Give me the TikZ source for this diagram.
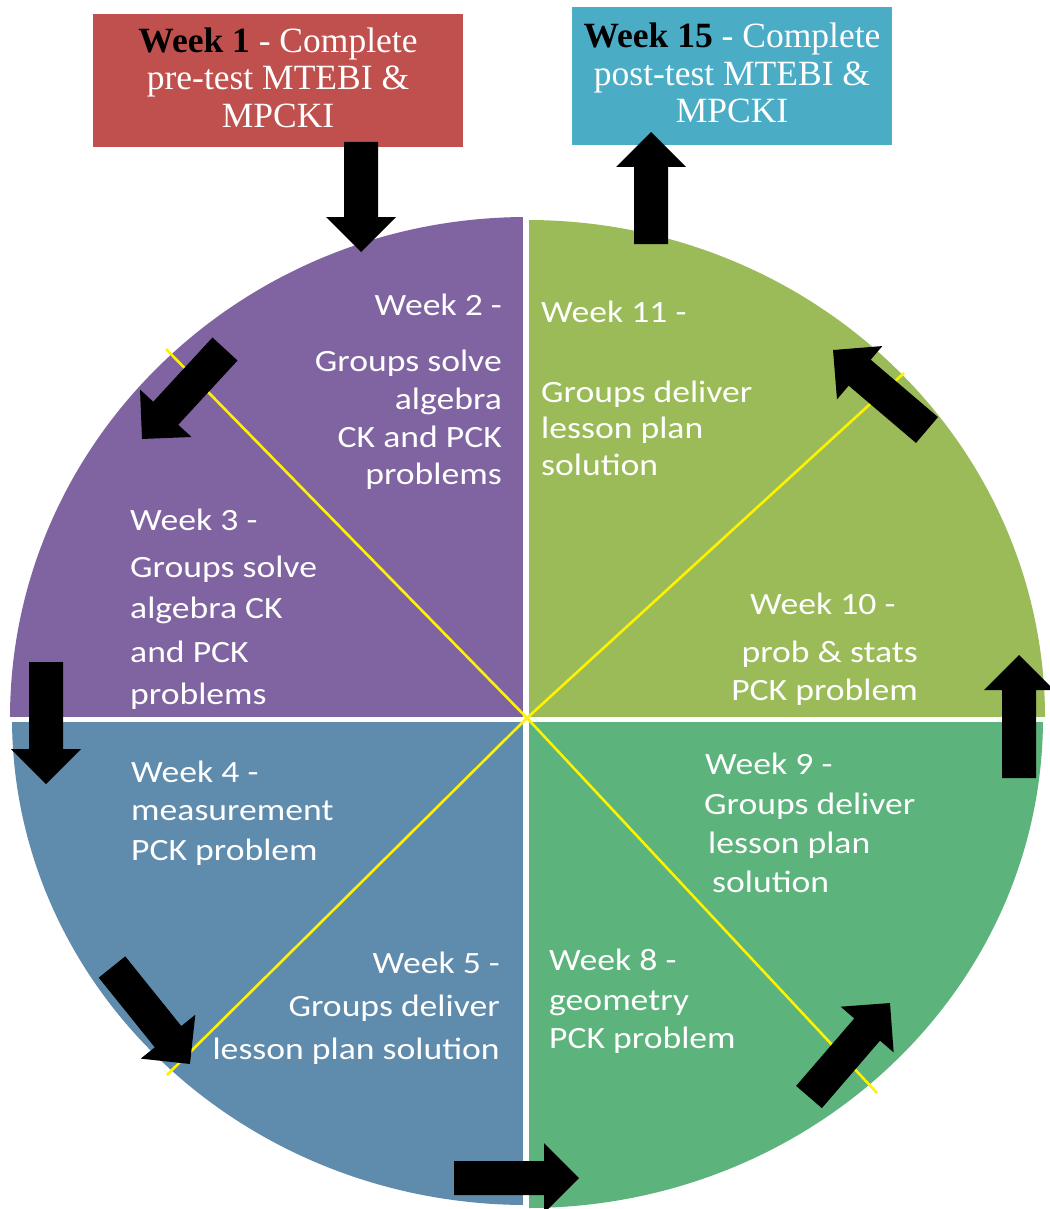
\documentclass[tikz,border=0pt]{standalone}
\usepackage{fontspec}
\setmainfont{Liberation Serif}
\newfontfamily\qfont[FakeStretch=1.15]{Carlito}
\usetikzlibrary{calc}
\definecolor{qpurple}{HTML}{8064A2}
\definecolor{qolive}{HTML}{9BBB59}
\definecolor{qblue}{HTML}{5F8BAD}
\definecolor{qgreen}{HTML}{5CB37B}
\definecolor{boxred}{HTML}{C0504D}
\definecolor{boxcyan}{HTML}{4BACC6}
\tikzset{
  qt/.style={text=white, font=\qfont\fontsize{31}{31}\selectfont, inner sep=0pt, text height=26pt, text depth=6pt},
  qw/.style={qt, anchor=west},
  qe/.style={qt, anchor=east},
  boxbase/.style={minimum width=#1, inner sep=0pt},
  boxtext/.style={text=white, align=center, font=\fontsize{35.5}{37.5}\selectfont, inner sep=0pt},
  blockarrowstyle/.style={fill=black},
  sep/.style={draw=white, line width=6pt},
  yel/.style={draw=yellow, line width=2.6pt},
}
\newcommand\blockarrow[2]{%
  \path let \p1=($(#2)-(#1)$) in \pgfextra{%
    \pgfmathsetmacro\tmpang{atan2(\y1,\x1)}%
    \pgfmathsetmacro\tmplen{veclen(\x1,\y1)}%
    \global\let\barang\tmpang\global\let\barlen\tmplen};
  \fill[blockarrowstyle, shift={(#1)}, rotate=\barang]
    (0,17) -- (\barlen-35,17) -- (\barlen-35,35) -- (\barlen,0) -- (\barlen-35,-35) -- (\barlen-35,-17) -- (0,-17) -- cycle;}
\begin{document}
\begin{tikzpicture}[x=1pt, y=-1pt]
\useasboundingbox (0,0) rectangle (1049,1209);
\fill[white] (0,0) rectangle (1049,1209);
% quadrants
\coordinate (c) at (527,718);
\fill[qpurple] (c) -- (10,718) arc[start angle=180, end angle=270, x radius=517, y radius=501] -- cycle;
\fill[qolive] (c) -- (527,220) arc[start angle=270, end angle=360, x radius=518, y radius=498] -- cycle;
\fill[qgreen] (c) -- (1043,718) arc[start angle=0, end angle=90, x radius=516, y radius=490] -- cycle;
\fill[qblue] (c) -- (527,1205) arc[start angle=90, end angle=180, x radius=515, y radius=487] -- cycle;
% separators
\path[sep] (526,200) -- (526,1209);
\path[sep, line width=5pt] (0,719) -- (1049,719);
% yellow diagonals
\coordinate (y1a) at (166,349);
\coordinate (y1b) at (877,1093);
\coordinate (y2a) at (167,1075);
\coordinate (y2b) at (904,373);
\path[yel] (y1a) -- (c) -- (y1b);
\path[yel] (y2a) -- (c) -- (y2b);
% boxes
\node[boxbase=370pt, minimum height=133pt, fill=boxred] (b1) at (278,80.5) {};
\node[boxtext] (b1t) at ($(b1.center)+(0,-3)$) {\textcolor{black}{\textbf{Week 1}} - Complete\\pre-test MTEBI \&\\MPCKI};
\node[boxbase=320pt, minimum height=138pt, fill=boxcyan] (b15) at (732,76) {};
\node[boxtext] (b15t) at ($(b15.center)+(0,-3)$) {\textcolor{black}{\textbf{Week 15}} - Complete\\post-test MTEBI \&\\MPCKI};
% quadrant texts
\node[qe] (w2a) at (502,305) {Week 2 -};
\node[qe] (w2b) at (502,361) {Groups solve};
\node[qe] (w2c) at (502,399) {algebra};
\node[qe] (w2d) at (502,437) {CK and PCK};
\node[qe] (w2e) at (502,474) {problems};
\node[qw] (w3a) at (130,520) {Week 3 -};
\node[qw] (w3b) at (130,567) {Groups solve};
\node[qw] (w3c) at (130,608) {algebra CK};
\node[qw] (w3d) at (130,652) {and PCK};
\node[qw] (w3e) at (130,694) {problems};
\node[qw] (w11a) at (541,312) {Week 11 -};
\node[qw] (w11b) at (541,392) {Groups deliver};
\node[qw] (w11c) at (541,428) {lesson plan};
\node[qw] (w11d) at (541,465) {solution};
\node[qw] (w10a) at (750,604) {Week 10 -};
\node[qe] (w10b) at (918,652) {prob \& stats};
\node[qe] (w10c) at (918,690) {PCK problem};
\node[qw] (w4a) at (131,772) {Week 4 -};
\node[qw] (w4b) at (131,810) {measurement};
\node[qw] (w4c) at (131,850) {PCK problem};
\node[qw] (w9a) at (705,764) {Week 9 -};
\node[qw] (w9b) at (704,804) {Groups deliver};
\node[qw] (w9c) at (708,843) {lesson plan};
\node[qw] (w9d) at (712,882) {solution};
\node[qe] (w5a) at (500,963) {Week 5 -};
\node[qe] (w5b) at (500,1006) {Groups deliver};
\node[qe] (w5c) at (500,1049) {lesson plan solution};
\node[qw] (w8a) at (549,960) {Week 8 -};
\node[qw] (w8b) at (549,1000) {geometry};
\node[qw] (w8c) at (549,1038) {PCK problem};
% arrows
\coordinate (a1t) at (361,142);  \coordinate (a1h) at (361,252);
\coordinate (a2t) at (651,244);  \coordinate (a2h) at (651,132);
\coordinate (a3t) at (46,662);   \coordinate (a3h) at (46,784);
\coordinate (a4t) at (1019,778); \coordinate (a4h) at (1019,655);
\coordinate (a5t) at (454,1178); \coordinate (a5h) at (579,1178);
\coordinate (a6t) at (225,349);  \coordinate (a6h) at (142,439);
\coordinate (a7t) at (927,430);  \coordinate (a7h) at (833,350);
\coordinate (a8t) at (112,967);  \coordinate (a8h) at (190,1064);
\coordinate (a9t) at (809,1097); \coordinate (a9h) at (890,1003);
\blockarrow{a1t}{a1h}
\blockarrow{a2t}{a2h}
\blockarrow{a3t}{a3h}
\blockarrow{a4t}{a4h}
\blockarrow{a5t}{a5h}
\blockarrow{a6t}{a6h}
\blockarrow{a7t}{a7h}
\blockarrow{a8t}{a8h}
\blockarrow{a9t}{a9h}
\end{tikzpicture}
\end{document}
